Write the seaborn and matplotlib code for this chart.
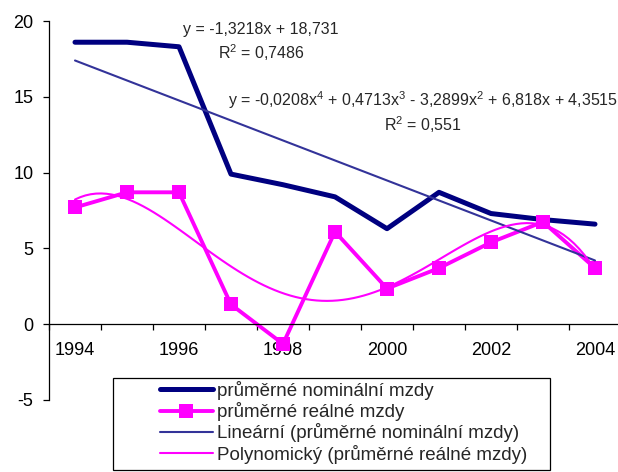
import numpy as np
import matplotlib
matplotlib.use("Agg")
import matplotlib.pyplot as plt
import seaborn as sns
from matplotlib.patches import Rectangle

# ---- data ----
years = [1994, 1995, 1996, 1997, 1998, 1999, 2000, 2001, 2002, 2003, 2004]
nominal = [18.6, 18.6, 18.3, 9.9, 9.2, 8.4, 6.3, 8.7, 7.3, 6.9, 6.6]
real = [7.7, 8.7, 8.7, 1.3, -1.3, 6.1, 2.35, 3.7, 5.4, 6.75, 3.7]
year_labels = ["1994", "1996", "1998", "2000", "2002", "2004"]
series_names = ["průměrné nominální mzdy", "průměrné reálné mzdy",
                "Lineární (průměrné nominální mzdy)",
                "Polynomický (průměrné reálné mzdy)"]
eq_linear = "y = -1,3218x + 18,731"
r2_linear = "R$^2$ = 0,7486"
eq_poly = "y = -0,0208x$^4$ + 0,4713x$^3$ - 3,2899x$^2$ + 6,818x + 4,3515"
r2_poly = "R$^2$ = 0,551"
y_ticks = [-5, 0, 5, 10, 15, 20]

sns.set_theme(style="white")
plt.rcParams['font.family'] = ['Liberation Sans', 'DejaVu Sans']
plt.rcParams['mathtext.fontset'] = 'custom'
plt.rcParams['mathtext.rm'] = 'Liberation Sans'
plt.rcParams['mathtext.it'] = 'Liberation Sans:italic'
plt.rcParams['mathtext.bf'] = 'Liberation Sans:bold'

W, H = 618, 472
fig = plt.figure(figsize=(W / 100, H / 100), dpi=100)
ax = fig.add_axes([49 / W, 1 - 400 / H, (621 - 49) / W, (400 - 21) / H])

pos = np.arange(len(years))

sns.lineplot(x=pos, y=nominal, color='#000080', lw=3.6, label=series_names[0], ax=ax)
sns.lineplot(x=pos, y=real, color='#FF00FF', lw=2.8, marker='s', markersize=9.5,
             markeredgewidth=0, label=series_names[1], ax=ax)
sns.regplot(x=pos, y=nominal, scatter=False, ci=None, order=1, color='#333399',
            line_kws=dict(lw=1.5), label=series_names[2], ax=ax)
sns.regplot(x=pos, y=real, scatter=False, ci=None, order=4, color='#FF00FF',
            line_kws=dict(lw=1.5), label=series_names[3], ax=ax)

handles, labels = ax.get_legend_handles_labels()
if ax.get_legend() is not None:
    ax.get_legend().remove()

ax.set_xlim(-0.5, 10.5)
ax.set_ylim(-5, 20)
ax.set_xlabel("")
ax.set_ylabel("")
ax.grid(False)

for s in ['top', 'right']:
    ax.spines[s].set_visible(False)
ax.spines['bottom'].set_position(('data', 0))
for s in ['left', 'bottom']:
    ax.spines[s].set_color('black')
    ax.spines[s].set_linewidth(0.9)

ax.set_yticks(y_ticks)
ax.set_yticklabels([str(v) for v in y_ticks])
ax.set_xticks(pos[::2])
ax.set_xticklabels(year_labels)
ax.set_xticks(np.arange(-0.5, 11, 1), minor=True)
ax.tick_params(axis='y', which='major', left=True, length=4.3, width=0.9,
               direction='out', pad=7, labelsize=13, colors='black')
ax.tick_params(axis='x', which='major', bottom=True, length=0, pad=13,
               labelsize=13, colors='black')
ax.tick_params(axis='x', which='minor', bottom=True, length=4.3, width=0.9,
               direction='out', colors='black')

ax.text(3.58, 19.46, eq_linear, ha='center', va='center', fontsize=11.5)
ax.text(3.58, 17.94, r2_linear, ha='center', va='center', fontsize=11.5)
ax.text(6.69, 14.78, eq_poly, ha='center', va='center', fontsize=11.5)
ax.text(6.69, 13.13, r2_poly, ha='center', va='center', fontsize=11.5)

fig.legend(handles, labels, loc='upper left', bbox_to_anchor=(160 / W, 1 - 381 / H),
           frameon=False, fontsize=13.5, handlelength=2.8, handletextpad=0.25,
           labelspacing=0.12, borderpad=0, borderaxespad=0)
fig.add_artist(Rectangle((113 / W, 1 - 470 / H), (550 - 113) / W, (470 - 378) / H,
                         transform=fig.transFigure, fill=False, ec='black', lw=0.9))

fig.savefig("out.png", dpi=100)
